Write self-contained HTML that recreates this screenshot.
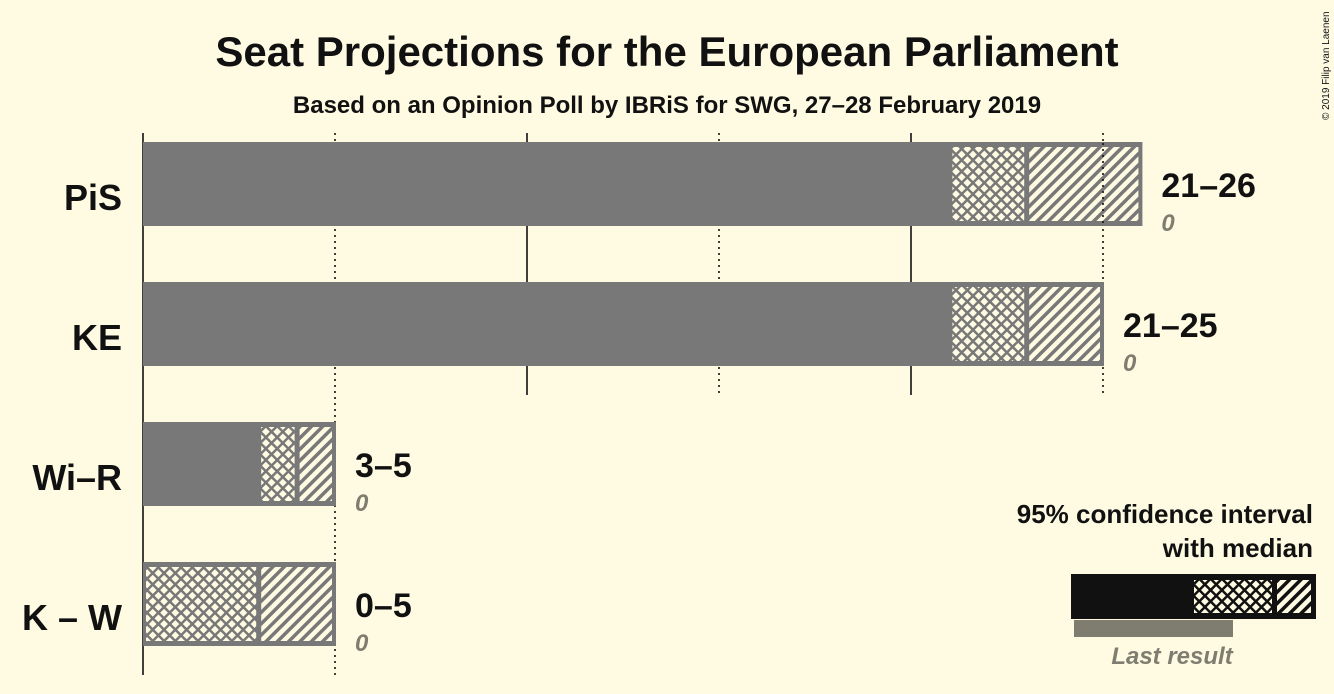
<!DOCTYPE html>
<html><head><meta charset="utf-8"><style>
html,body{margin:0;padding:0;background:#fffbe3;}
svg{display:block;font-family:"Liberation Sans",sans-serif;}
</style></head><body>
<svg width="1334" height="694" viewBox="0 0 1334 694">
<defs>
<pattern id="hatch" width="8" height="8" patternUnits="userSpaceOnUse" patternTransform="rotate(45)">
<rect width="8" height="8" fill="#fffbe3"/><rect x="0" y="0" width="3.5" height="8" fill="#787878"/></pattern>
<pattern id="cross" width="8" height="8" patternUnits="userSpaceOnUse" patternTransform="rotate(45)">
<rect width="8" height="8" fill="#fffbe3"/><rect x="0" y="0" width="2.5" height="8" fill="#787878"/><rect x="0" y="0" width="8" height="2.5" fill="#787878"/></pattern>
<pattern id="hatchK" width="8" height="8" patternUnits="userSpaceOnUse" patternTransform="rotate(45)">
<rect width="8" height="8" fill="#fffbe3"/><rect x="0" y="0" width="3.5" height="8" fill="#111"/></pattern>
<pattern id="crossK" width="8" height="8" patternUnits="userSpaceOnUse" patternTransform="rotate(45)">
<rect width="8" height="8" fill="#fffbe3"/><rect x="0" y="0" width="2.5" height="8" fill="#111"/><rect x="0" y="0" width="8" height="2.5" fill="#111"/></pattern>
</defs>
<rect width="1334" height="694" fill="#fffbe3"/>
<text x="667" y="66" text-anchor="middle" font-size="42" font-weight="bold" fill="#111">Seat Projections for the European Parliament</text>
<text x="667" y="113" text-anchor="middle" font-size="24" font-weight="bold" fill="#111">Based on an Opinion Poll by IBRiS for SWG, 27–28 February 2019</text>
<text x="1329" y="120" transform="rotate(-90 1329 120)" text-anchor="start" font-size="10" fill="#111">© 2019 Filip van Laenen</text>
<g id="grid"></g>
<g id="bars"></g>
<g>
<text x="1313" y="523" text-anchor="end" font-size="26" font-weight="bold" fill="#111">95% confidence interval</text>
<text x="1313" y="557" text-anchor="end" font-size="26" font-weight="bold" fill="#111">with median</text>
<rect x="1074" y="620" width="159" height="17" fill="#7f7d70"/>
<rect x="1071" y="574" width="245" height="45" fill="#111"/>
<rect x="1194" y="580" width="78" height="33" fill="url(#crossK)"/>
<rect x="1277" y="580" width="34" height="33" fill="url(#hatchK)"/>
<text x="1172" y="664" text-anchor="middle" font-size="24" font-weight="bold" font-style="italic" fill="#7f7d70">Last result</text>
</g>
<script>
const parties=["PiS","KE","Wi–R","K – W"];
const lows=[21,21,3,0];
const medians=[23,23,4,3];
const highs=[26,25,5,5];
const lastResults=[0,0,0,0];
const ticks=[0,5,10,15,20,25];
const NS="http://www.w3.org/2000/svg";
const x0=143,ppu=38.4;
const X=v=>x0+v*ppu;
const rowY=i=>143+i*140;
const bh=82;
function mk(tag,attrs,parent){const e=document.createElementNS(NS,tag);for(const k in attrs)e.setAttribute(k,attrs[k]);parent.appendChild(e);return e;}
const grid=document.getElementById('grid'),bars=document.getElementById('bars');
ticks.forEach((t,j)=>{
  let maxRow=-1;highs.forEach((h,i)=>{if(h>=t)maxRow=i;});
  const y2=rowY(Math.max(maxRow,0))+bh+30;
  const l=mk('line',{x1:X(t),x2:X(t),y1:133,y2:y2,stroke:'#111','stroke-width':1.6,'stroke-dasharray':(t%10===0)?'none':'2,4'},grid);
  
  
});
parties.forEach((p,i)=>{
  const y=rowY(i);
  const g=mk('g',{},bars);
  
  
  const hw=3;
  mk('rect',{x:X(0),y:y-1,width:X(highs[i])-X(0)+1,height:bh+2,fill:'#787878'},g);
  mk('rect',{x:X(lows[i])+hw,y:y+hw+1,width:X(medians[i])-X(lows[i])-hw*2+1,height:bh-2*hw-2,fill:'url(#cross)'},g);
  mk('rect',{x:X(medians[i])+hw,y:y+hw+1,width:X(highs[i])-X(medians[i])-hw*2,height:bh-2*hw-2,fill:'url(#hatch)'},g);
  const lab=mk('text',{x:122,y:y+bh/2+13+13,'text-anchor':'end','font-size':36,'font-weight':'bold',fill:'#111'},g);
  lab.textContent=p;
  
  
  const r=mk('text',{x:X(highs[i])+20,y:y+54,'font-size':34,'font-weight':'bold',fill:'#111'},g);
  r.textContent=lows[i]+'–'+highs[i];
  
  
  const lr=mk('text',{x:X(highs[i])+20,y:y+88,'font-size':24,'font-weight':'bold','font-style':'italic',fill:'#7f7d70'},g);
  lr.textContent=lastResults[i];
  
  
});
ticks.forEach(t=>{
  if(t%10===0)return;
  highs.forEach((h,i)=>{
    if(h>t && t>lows[i]){const l=mk('line',{x1:X(t),x2:X(t),y1:rowY(i),y2:rowY(i)+bh,stroke:'#111','stroke-width':1.6,'stroke-dasharray':'2,4'},bars);
      
      }
  });
});
</script>
</svg>
</body></html>
